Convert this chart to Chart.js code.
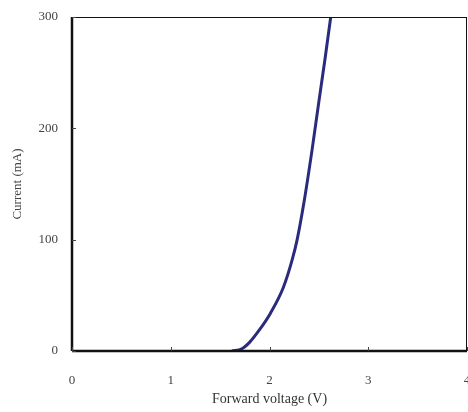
<!DOCTYPE html>
<html>
<head>
<meta charset="utf-8">
<script src="https://cdn.jsdelivr.net/npm/chart.js@4"></script>
<style>
  html, body { margin: 0; padding: 0; background: #fff; overflow: hidden; }
  canvas { display: block; }
</style>
</head>
<body>
<canvas id="ivChart" width="468" height="412"></canvas>
<script>
// I-V curve, values
const voltage = [1.62, 1.72, 1.80, 1.89, 2.01, 2.14, 2.23, 2.28, 2.35, 2.43, 2.50, 2.56, 2.62];
const current = [0, 2, 8, 18, 34, 57, 82, 100, 134, 180, 224, 261, 300];
const xTicks = [0, 1, 2, 3, 4];
const yTicks = [0, 100, 200, 300];

const points = voltage.map((v, i) => ({ x: v, y: current[i] }));

// frame + inward tick marks
const framePlugin = {
  id: 'frame',
  afterDraw(chart) {
    const { ctx, chartArea: a, scales } = chart;
    ctx.save();
    ctx.strokeStyle = '#111';
    ctx.lineWidth = 1;
    ctx.strokeRect(a.left + 0.5, a.top + 0.5, a.right - a.left - 1, a.bottom - a.top);
    ctx.lineWidth = 2.5;
    ctx.beginPath();
    ctx.moveTo(a.left, a.bottom); ctx.lineTo(a.right, a.bottom);
    ctx.moveTo(a.left, a.top); ctx.lineTo(a.left, a.bottom);
    ctx.stroke();
    ctx.lineWidth = 1;
    ctx.strokeStyle = '#444';
    ctx.beginPath();
    xTicks.forEach(t => {
      const px = Math.round(scales.x.getPixelForValue(t)) + 0.5;
      ctx.moveTo(px, a.bottom); ctx.lineTo(px, a.bottom - 4);
    });
    yTicks.forEach(t => {
      const py = Math.round(scales.y.getPixelForValue(t)) + 0.5;
      ctx.moveTo(a.left, py); ctx.lineTo(a.left + 4, py);
    });
    ctx.stroke();
    ctx.restore();
  }
};

const serif = 'Liberation Serif';

new Chart(document.getElementById('ivChart'), {
  type: 'line',
  data: {
    datasets: [{
      data: points,
      borderColor: '#2b2b7e',
      borderWidth: 3,
      pointRadius: 0,
      cubicInterpolationMode: 'monotone',
      fill: false
    }]
  },
  options: {
    responsive: false,
    animation: false,
    layout: { padding: { top: 17, right: 1, left: 0, bottom: 0 } },
    plugins: { legend: { display: false }, tooltip: { enabled: false } },
    scales: {
      x: {
        type: 'linear',
        min: 0, max: 4,
        afterFit(s) { s.height = 61; s.paddingLeft = 0; s.paddingRight = 0; },
        afterBuildTicks(s) { s.ticks = xTicks.map(v => ({ value: v })); },
        grid: { display: false },
        border: { display: false },
        ticks: { color: '#444', padding: 14, maxRotation: 0, font: { family: serif, size: 13 } },
        title: { display: true, text: 'Forward voltage (V)', color: '#333', padding: { top: 2 }, font: { family: serif, size: 14 } }
      },
      y: {
        min: 0, max: 300,
        afterFit(s) { s.width = 72; s.paddingTop = 0; s.paddingBottom = 0; },
        afterBuildTicks(s) { s.ticks = yTicks.map(v => ({ value: v })); },
        grid: { display: false, tickLength: 0 },
        border: { display: false },
        ticks: { color: '#444', padding: 14, font: { family: serif, size: 13 } },
        title: { display: true, text: 'Current (mA)', color: '#444', padding: { top: 10, bottom: 0 }, font: { family: serif, size: 13 } }
      }
    }
  },
  plugins: [framePlugin]
});
</script>
</body>
</html>
